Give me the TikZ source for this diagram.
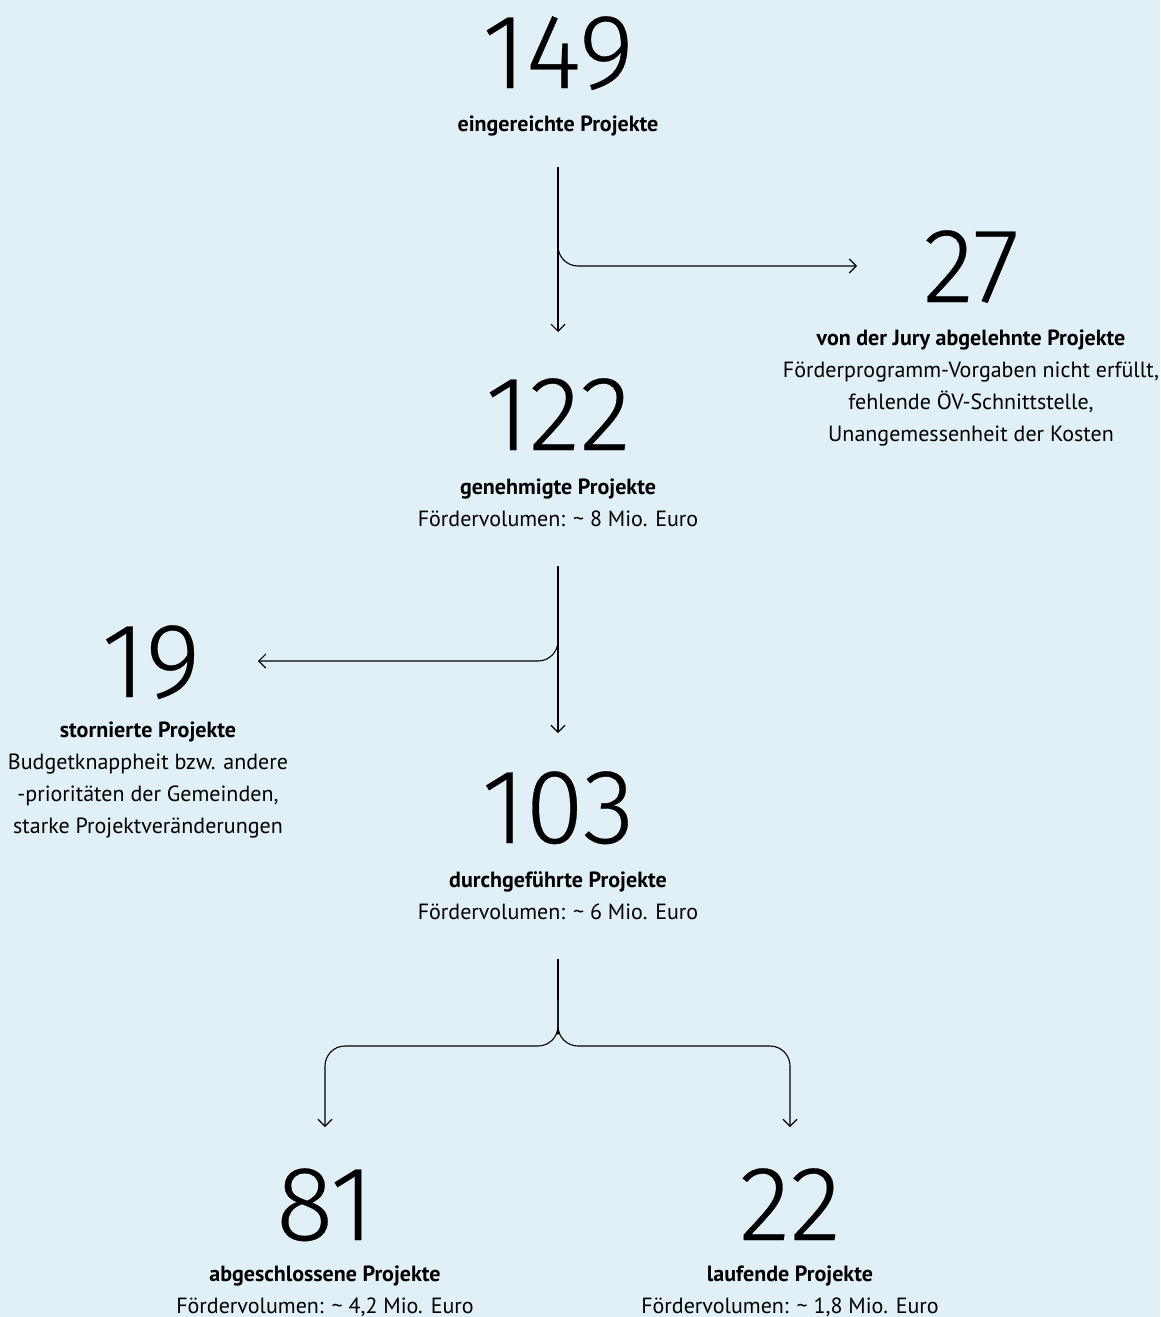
\documentclass[tikz,border=0pt]{standalone}
\usepackage{fontspec}
\setmainfont{PT Sans}
\newfontfamily\numfont[FakeBold=0.3]{Fira Sans Light}
\usetikzlibrary{arrows.meta}
\definecolor{bg}{HTML}{E1F0F6}
\tikzset{
  num/.style={anchor=base, inner sep=0pt, font=\numfont\fontsize{106}{106}\selectfont},
  lbl/.style={anchor=base, inner sep=0pt, align=center, font=\fontsize{22}{31.7}\selectfont},
  conn/.style={line width=1.1pt, rounded corners=20pt, -{Straight Barb[length=7pt,width=14pt]}},
  plain/.style={line width=1.1pt}
}
\begin{document}
\begin{tikzpicture}[x=1pt,y=-1pt]
\fill[bg] (0,0) rectangle (1160,1317);
\useasboundingbox (0,0) rectangle (1160,1317);
% numbers
\node[num] (n149) at (558,88) {149};
\node[num] (n27) at (971,302) {27};
\node[num] (n122) at (558,450) {122};
\node[num] (n19) at (151,697) {19};
\node[num] (n103) at (558,843) {103};
\node[num] (n81) at (325,1240) {81};
\node[num] (n22) at (790,1240) {22};
% labels (anchor base = baseline of last line)
\node[lbl] (l149) at (558,131) {\textbf{eingereichte Projekte}};
\node[lbl] (l27) at (971,441) {\textbf{von der Jury abgelehnte Projekte}\\Förderprogramm-Vorgaben nicht erfüllt,\\fehlende ÖV-Schnittstelle,\\Unangemessenheit der Kosten};
\node[lbl] (l122) at (558,526) {\textbf{genehmigte Projekte}\\Fördervolumen: \textasciitilde{} 8 Mio. Euro};
\node[lbl] (l19) at (148,833) {\textbf{stornierte Projekte}\\Budgetknappheit bzw. andere\\-prioritäten der Gemeinden,\\starke Projektveränderungen};
\node[lbl] (l103) at (558,919) {\textbf{durchgeführte Projekte}\\Fördervolumen: \textasciitilde{} 6 Mio. Euro};
\node[lbl] (l81) at (325,1313) {\textbf{abgeschlossene Projekte}\\Fördervolumen: \textasciitilde{} 4,2 Mio. Euro};
\node[lbl] (l22) at (790,1313) {\textbf{laufende Projekte}\\Fördervolumen: \textasciitilde{} 1,8 Mio. Euro};
% connector end points
\coordinate (a1) at (558,167);
\coordinate (a2) at (558,332);
\coordinate (b1) at (558,230);
\coordinate (b2) at (857,266);
\coordinate (c1) at (558,566);
\coordinate (c2) at (558,733);
\coordinate (d1) at (558,620);
\coordinate (d2) at (258,661);
\coordinate (e1) at (558,959);
\coordinate (e2) at (558,1000);
\coordinate (f1) at (325,1127);
\coordinate (f2) at (790,1127);
% connectors
\draw[conn] (a1) -- (a2);
\draw[conn] (b1) |- (b2);
\draw[conn] (c1) -- (c2);
\draw[conn] (d1) |- (d2);
\draw[plain] (e1) -- (e2);
\draw[conn] (e2) |- (558,1046) -| (f1);
\draw[conn] (e2) |- (558,1046) -| (f2);
\end{tikzpicture}
\end{document}
